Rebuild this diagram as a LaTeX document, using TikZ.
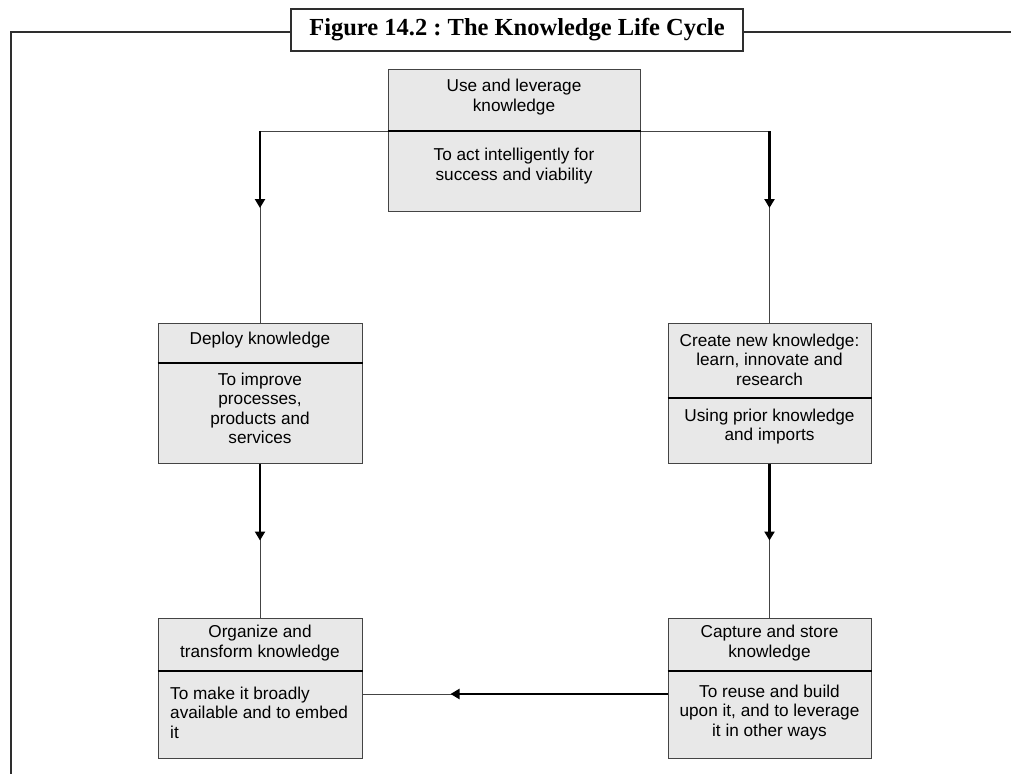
\documentclass[tikz,border=0pt]{standalone}
\usepackage{fontspec}
\setmainfont{Liberation Sans}
\newfontfamily\titlefont{Liberation Serif}
\usetikzlibrary{arrows.meta}
\definecolor{boxgray}{HTML}{E8E8E8}
\definecolor{linegray}{HTML}{444444}
\definecolor{framegray}{HTML}{2E2E2E}
\frenchspacing
\begin{document}
\begin{tikzpicture}[x = 1pt, y = -1pt,
		kbox/.style = {draw = linegray, fill = boxgray, line width = 1pt, inner sep = 0pt},
		ktext/.style = {align = center, inner sep = 0pt, font = \fontsize{17.2}{19.5}\selectfont},
		divider/.style = {line width = 1.3pt, black},
		thinline/.style = {draw = linegray, line width = 0.9pt},
		thickarrow/.style = {line width = 2.6pt, -{Triangle[length = 9pt, width = 10pt]}},
		frame/.style = {draw = framegray, line width = 2pt}]
		\useasboundingbox (0, 0) rectangle (1011, 774);
		% title and frame
		\node[frame, fill = white, minimum width = 452pt, minimum height = 42pt, inner sep = 0pt, font = \titlefont\bfseries\fontsize{24.5}{27}\selectfont] (title) at (517, 30) {Figure 14.2 : The Knowledge Life Cycle};
		\coordinate (corner) at (11, 32);
		\draw[frame] (title.west |- corner) -- (corner) -- (11, 774);
		\draw[frame] (title.east |- corner) -- (1011, 32);
		% boxes
		\node[kbox, minimum width = 252pt, minimum height = 142pt] (use) at (514, 140) {};
		\node[kbox, minimum width = 204pt, minimum height = 140pt] (deploy) at (260, 393) {};
		\node[kbox, minimum width = 203pt, minimum height = 140pt] (create) at (769.5, 393) {};
		\node[kbox, minimum width = 204pt, minimum height = 140pt] (organize) at (260, 688) {};
		\node[kbox, minimum width = 203pt, minimum height = 140pt] (capture) at (769.5, 688) {};
		\foreach \n/\y in {use/131, deploy/363, create/398, organize/671, capture/671}
			\draw[divider] (\n.west |- 0, \y) -- (\n.east |- 0, \y);
		% texts
		\node[ktext] (useA) at (514, 97) {Use and leverage\\knowledge};
		\node[ktext] (useB) at (514, 166) {To act intelligently for\\success and viability};
		\node[ktext] (deployA) at (260, 340) {Deploy knowledge};
		\node[ktext] (deployB) at (260, 408.5) {To improve\\processes,\\products and\\services};
		\node[ktext] (createA) at (769.5, 359.5) {Create new knowledge:\\learn, innovate and\\research};
		\node[ktext] (createB) at (769.5, 426.5) {Using prior knowledge\\and imports};
		\node[ktext] (organizeA) at (260, 643) {Organize and\\transform knowledge};
		\node[ktext, align = left, anchor = west] (organizeB) at (170, 712.5) {To make it broadly\\available and to embed\\it};
		\node[ktext] (captureA) at (769.5, 643) {Capture and store\\knowledge};
		\node[ktext] (captureB) at (769.5, 712.5) {To reuse and build\\upon it, and to leverage\\it in other ways};
		% connectors
		\draw[thinline] (use.west |- 0, 131) -| (deploy.north);
		\draw[thinline] (use.east |- 0, 131) -| (create.north);
		\draw[thinline] (deploy.south) -- (organize.north);
		\draw[thinline] (create.south) -- (capture.north);
		\draw[thinline] (capture.west |- 0, 694) -- (organize.east |- 0, 694);
		\draw[thickarrow] (deploy.north |- 0, 131) -- ++(0, 77);
		\draw[thickarrow] (create.north |- 0, 131) -- ++(0, 77);
		\draw[thickarrow] (deploy.south) -- ++(0, 77);
		\draw[thickarrow] (create.south) -- ++(0, 77);
		\draw[thickarrow] (capture.west |- 0, 694) -- ++(-217, 0);
	\end{tikzpicture}
\end{document}
